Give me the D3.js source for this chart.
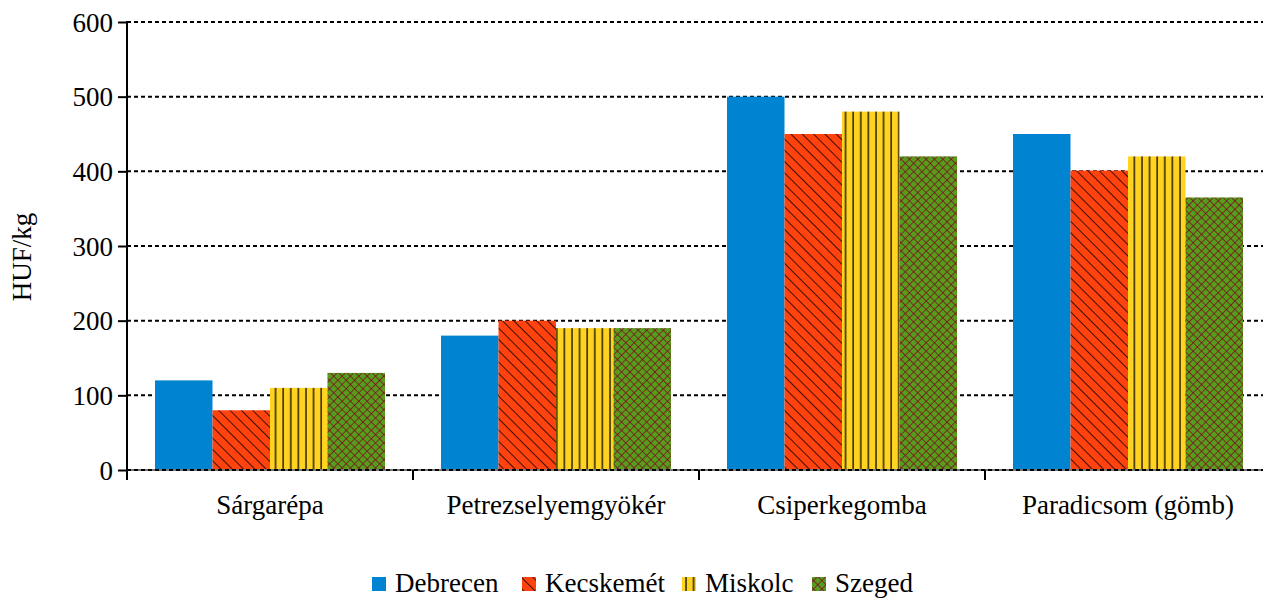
<!DOCTYPE html>
<html><head><meta charset="utf-8">
<script src="https://cdn.jsdelivr.net/npm/d3@7"></script>
<style>body{margin:0;background:#fff}svg{display:block}</style>
</head><body>
<svg id="c" width="1263" height="598"></svg>
<script>
const categories = ["Sárgarépa","Petrezselyemgyökér","Csiperkegomba","Paradicsom (gömb)"];
const series = ["Debrecen","Kecskemét","Miskolc","Szeged"];
const debrecen = [120,180,500,450];
const kecskemet = [80,200,450,401];
const miskolc = [110,190,480,420];
const szeged = [130,190,420,365];
const values = [debrecen,kecskemet,miskolc,szeged];
const yTicks = [0,100,200,300,400,500,600];
const yLabel = "HUF/kg";

(function(){
const FONT = "Liberation Serif";
const FS = 27;
const svg = d3.select("#c");
const defs = svg.append("defs");
const pK = defs.append("pattern").attr("id","pK").attr("patternUnits","userSpaceOnUse")
  .attr("width",8).attr("height",8).attr("patternTransform","rotate(-45)");
pK.append("rect").attr("width",8).attr("height",8).attr("fill","#FF420E");
pK.append("line").attr("x1",0).attr("y1",0).attr("x2",0).attr("y2",8).attr("stroke","#000").attr("stroke-width",1.5);
const pM = defs.append("pattern").attr("id","pM").attr("patternUnits","userSpaceOnUse")
  .attr("width",7.6).attr("height",8);
pM.append("rect").attr("width",7.6).attr("height",8).attr("fill","#FFD320");
pM.append("line").attr("x1",2).attr("y1",0).attr("x2",2).attr("y2",8).attr("stroke","#3a2e08").attr("stroke-width",1.6);
const pS = defs.append("pattern").attr("id","pS").attr("patternUnits","userSpaceOnUse")
  .attr("width",5.9).attr("height",5.9).attr("patternTransform","rotate(45)");
pS.append("rect").attr("width",5.9).attr("height",5.9).attr("fill","#579D1C");
pS.append("line").attr("x1",0).attr("y1",0).attr("x2",0).attr("y2",5.9).attr("stroke","#7E0021").attr("stroke-width",1.4);
pS.append("line").attr("x1",0).attr("y1",0).attr("x2",5.9).attr("y2",0).attr("stroke","#7E0021").attr("stroke-width",1.4);
const fills = ["#0084D1","url(#pK)","url(#pM)","url(#pS)"];

const pl = 127, pr = 1271, pt = 22, pb = 470;
const x0 = d3.scaleBand().domain(categories).range([pl,pr]);
const gpad = 28;
const x1 = d3.scaleBand().domain(series).range([gpad, x0.bandwidth()-gpad]);
const y = d3.scaleLinear().domain([0,600]).range([pb,pt]);

svg.append("g").selectAll("line").data(yTicks.filter(d=>d>0)).join("line")
  .attr("x1",pl).attr("x2",pr).attr("y1",d=>y(d)).attr("y2",d=>y(d))
  .attr("stroke","#000").attr("stroke-width",2).attr("stroke-dasharray","4,3");

const g = svg.append("g");
series.forEach((s,si)=>{
  g.selectAll(null).data(categories).join("rect")
    .attr("x",c=>x0(c)+x1(s)).attr("width",x1.bandwidth())
    .attr("y",(c,ci)=>y(values[si][ci])).attr("height",(c,ci)=>y(0)-y(values[si][ci]))
    .attr("fill",fills[si]);
});

svg.append("line").attr("x1",pl).attr("x2",pr).attr("y1",y(0)).attr("y2",y(0))
  .attr("stroke","#777").attr("stroke-width",2);
svg.append("line").attr("x1",pl).attr("x2",pr).attr("y1",y(0)).attr("y2",y(0))
  .attr("stroke","#000").attr("stroke-width",2).attr("stroke-dasharray","4,3");
svg.append("g").selectAll("line").data(categories.slice(1)).join("line")
  .attr("x1",c=>x0(c)).attr("x2",c=>x0(c)).attr("y1",y(0)).attr("y2",y(0)+10)
  .attr("stroke","#000").attr("stroke-width",2);
svg.append("g").selectAll("text").data(categories).join("text")
  .attr("x",c=>x0(c)+x0.bandwidth()/2).attr("y",514).attr("text-anchor","middle")
  .style("font-family",FONT).style("font-size",FS+"px").attr("fill","#000").text(c=>c);

const yAxis = d3.axisLeft(y).tickValues(yTicks).tickSize(9).tickPadding(5).tickFormat(d3.format("d"));
const ya = svg.append("g").attr("transform",`translate(${pl},0)`).call(yAxis);
ya.select(".domain").attr("stroke","#000").attr("stroke-width",2).attr("d",`M0,${pt-1}V${pb+10}`);
ya.selectAll(".tick line").attr("stroke","#000").attr("stroke-width",2);
ya.selectAll(".tick text").style("font-family",FONT).style("font-size",FS+"px").attr("fill","#000").attr("dy","0.34em");

svg.append("text").attr("transform",`translate(31,257) rotate(-90)`)
  .attr("text-anchor","middle").style("font-family",FONT).style("font-size",FS+"px").attr("fill","#000").text(yLabel);

const legX = [372,522,682,812];
const lg = svg.append("g");
series.forEach((s,i)=>{
  lg.append("rect").attr("x",legX[i]).attr("y",577).attr("width",14).attr("height",14).attr("fill",fills[i]);
  lg.append("text").attr("x",legX[i]+23).attr("y",592).style("font-family",FONT).style("font-size",FS+"px").attr("fill","#000").text(s);
});
})();
</script>
</body></html>
